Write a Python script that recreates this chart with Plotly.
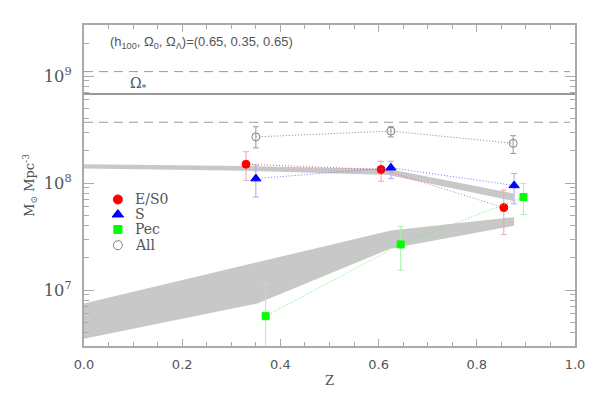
import plotly.graph_objects as go
import numpy as np

# stellar mass density per morphological type vs redshift
z_es0 = [0.330, 0.605, 0.855]
m_es0 = [1.50e8, 1.34e8, 5.9e7]
hi_es0 = [1.96e8, 1.60e8, 8.6e7]
lo_es0 = [1.06e8, 1.04e8, 3.3e7]

z_s = [0.350, 0.625, 0.876]
m_s = [1.10e8, 1.39e8, 9.5e7]
hi_s = [1.47e8, 1.60e8, 1.23e8]
lo_s = [7.4e7, 1.10e8, 6.4e7]

z_pec = [0.370, 0.645, 0.895]
m_pec = [5.7e6, 2.67e7, 7.4e7]
hi_pec = [1.15e7, 3.9e7, 9.9e7]
lo_pec = [2.0e6, 1.53e7, 5.1e7]

z_all = [0.350, 0.625, 0.874]
m_all = [2.70e8, 3.06e8, 2.35e8]
hi_all = [3.36e8, 3.36e8, 2.77e8]
lo_all = [2.13e8, 2.70e8, 1.89e8]

# shaded model bands
up_z = [0.0, 0.33, 0.62, 0.875]
up_top = [1.50e8, 1.44e8, 1.35e8, 8.0e7]
up_bot = [1.37e8, 1.30e8, 1.19e8, 6.8e7]
low_top_z = [0.0, 0.625, 0.876]
low_top = [7.5e6, 3.6e7, 4.8e7]
low_bot_z = [0.0, 0.353, 0.625, 0.876]
low_bot = [3.5e6, 7.5e6, 2.45e7, 4.0e7]

# Omega_* and its range
omega_star = 6.8e8
omega_hi = 1.1e9
omega_lo = 3.7e8

legend_labels = ["E/S0", "S", "Pec", "All"]

TXT = "#555555"
AX = "#aaaaaa"

fig = go.Figure()

# bands
fig.add_trace(go.Scatter(x=up_z + up_z[::-1], y=up_top + up_bot[::-1], fill="toself",
                         fillcolor="#c8c8c8", line=dict(width=0), mode="lines", hoverinfo="skip"))
fig.add_trace(go.Scatter(x=low_top_z + low_bot_z[::-1], y=low_top + low_bot[::-1], fill="toself",
                         fillcolor="#c8c8c8", line=dict(width=0), mode="lines", hoverinfo="skip"))

# horizontal lines
fig.add_trace(go.Scatter(x=[0, 1], y=[omega_star] * 2, mode="lines", line=dict(color="#999999", width=2)))
for v in (omega_hi, omega_lo):
    fig.add_trace(go.Scatter(x=[0, 0.99], y=[v] * 2, mode="lines",
                             line=dict(color="#999999", width=1, dash="9px,6px")))

series = [
    (z_es0, m_es0, hi_es0, lo_es0, "#ff0000", "rgba(240,90,90,0.9)", "#f5a3a3", "circle", 8),
    (z_s, m_s, hi_s, lo_s, "#0000ff", "rgba(100,100,255,0.9)", "#a8a8ff", "triangle-up", 9),
    (z_pec, m_pec, hi_pec, lo_pec, "#00ff00", "rgba(80,240,80,0.9)", "#a8f0a8", "square", 7),
    (z_all, m_all, hi_all, lo_all, "#808080", "rgba(120,120,120,0.9)", "#999999", "circle-open", 8),
]

for z, m, hi, lo, col, lcol, ecol, sym, sz in series:
    fig.add_trace(go.Scatter(
        x=z, y=m, mode="lines+markers",
        line=dict(color=lcol, width=1, dash="1px,2px"),
        marker=dict(symbol=sym, size=sz, color=col, line=dict(color=col, width=1)),
        error_y=dict(type="data", symmetric=False,
                     array=[h - v for h, v in zip(hi, m)],
                     arrayminus=[v - l for v, l in zip(m, lo)],
                     color=ecol, thickness=1, width=3),
    ))

# manual legend on an overlay axis
leg_y = [0.4565, 0.4097, 0.363, 0.314]
for (z, m, hi, lo, col, lcol, ecol, sym, sz), lab, yy in zip(series, legend_labels, leg_y):
    fig.add_trace(go.Scatter(x=[0.069], y=[yy], xaxis="x2", yaxis="y2", mode="markers",
                             marker=dict(symbol=sym, size=sz + 1, color=col, line=dict(color=col, width=1))))
    fig.add_annotation(x=0.0998, y=yy, xref="paper", yref="paper", text=lab, showarrow=False,
                       xanchor="left", yanchor="middle",
                       font=dict(family="DejaVu Serif", size=14, color=TXT))

fig.add_annotation(x=0.049, y=0.947, xref="paper", yref="paper", xanchor="left", yanchor="middle",
                   text="(h<sub>100</sub>, Ω<sub>0</sub>, Ω<sub>Λ</sub>)=(0.65, 0.35, 0.65)",
                   showarrow=False, font=dict(family="Liberation Sans", size=13, color=TXT))
fig.add_annotation(x=0.112, y=0.815, xref="paper", yref="paper", xanchor="center", yanchor="middle",
                   text="Ω<sub>*</sub>", showarrow=False,
                   font=dict(family="DejaVu Serif", size=14, color=TXT))

# page body has an 8px margin, so the figure is shrunk and shifted to compensate
fig.update_layout(
    width=591, height=391,
    margin=dict(l=76, r=24, t=17, b=53),
    plot_bgcolor="white", paper_bgcolor="white",
    showlegend=False,
    xaxis=dict(range=[0, 1], dtick=0.2, tickformat=".1f", ticks="inside", ticklen=7,
               tickcolor=AX, showline=True, linecolor=AX, linewidth=1.5, mirror="ticks",
               showgrid=False, zeroline=False, automargin=False,
               minor=dict(ticks="inside", ticklen=4, dtick=0.05, tickcolor=AX, showgrid=False),
               tickfont=dict(family="DejaVu Sans", size=13, color=TXT), ticklabelstandoff=6,
               title=dict(text="Z", font=dict(family="DejaVu Serif", size=13, color=TXT), standoff=5)),
    yaxis=dict(type="log", range=[np.log10(3e6), np.log10(3e9)], dtick=1, exponentformat="power",
               ticks="inside", ticklen=10, tickcolor=AX, showline=True, linecolor=AX, linewidth=1.5,
               mirror="ticks", showgrid=False, zeroline=False, automargin=False,
               minor=dict(ticks="inside", ticklen=5, dtick="D1", tickcolor=AX, showgrid=False),
               tickfont=dict(family="DejaVu Serif", size=13, color=TXT), ticklabelstandoff=8,
               title=dict(text="M<sub>⊙</sub> Mpc<sup>-3</sup>",
                          font=dict(family="DejaVu Serif", size=13, color=TXT), standoff=6)),
    xaxis2=dict(overlaying="x", range=[0, 1], visible=False),
    yaxis2=dict(overlaying="y", range=[0, 1], visible=False),
)

fig.write_html("out.html")
